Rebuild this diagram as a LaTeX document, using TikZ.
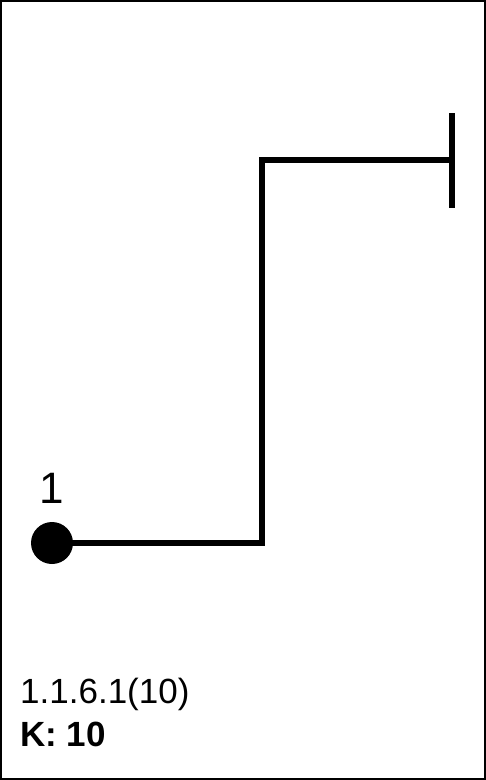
\documentclass[tikz,border=0pt]{standalone}
\usepackage{fontspec}
\setmainfont{Liberation Sans}
\begin{document}
\begin{tikzpicture}[x=1pt,y=-1pt,
  wire/.style={line width=5.5pt},
  txt/.style={inner sep=0pt,anchor=base west}]
\useasboundingbox (0,0) rectangle (486,780);
\draw[line width=2pt] (1,1) rectangle (485,779);
\fill (52,543) circle (21);
\coordinate (s) at (52,543);
\coordinate (c1) at (262,543);
\coordinate (c2) at (262,160);
\coordinate (e) at (452,160);
\coordinate (et) at (452,113);
\coordinate (eb) at (452,208);
\draw[wire] (s) -- (c1) -- (c2) -- (e);
\draw[line width=6pt] (et) -- (eb);
\node[txt,anchor=base] (lab) at (52,503) {\fontsize{44}{50}\selectfont 1};
\node[txt] (id) at (20,703) {\fontsize{35}{40}\selectfont 1.1.6.1(10)};
\node[txt] (k) at (20,746) {\fontsize{35}{40}\selectfont\bfseries K: 10};
\end{tikzpicture}
\end{document}
